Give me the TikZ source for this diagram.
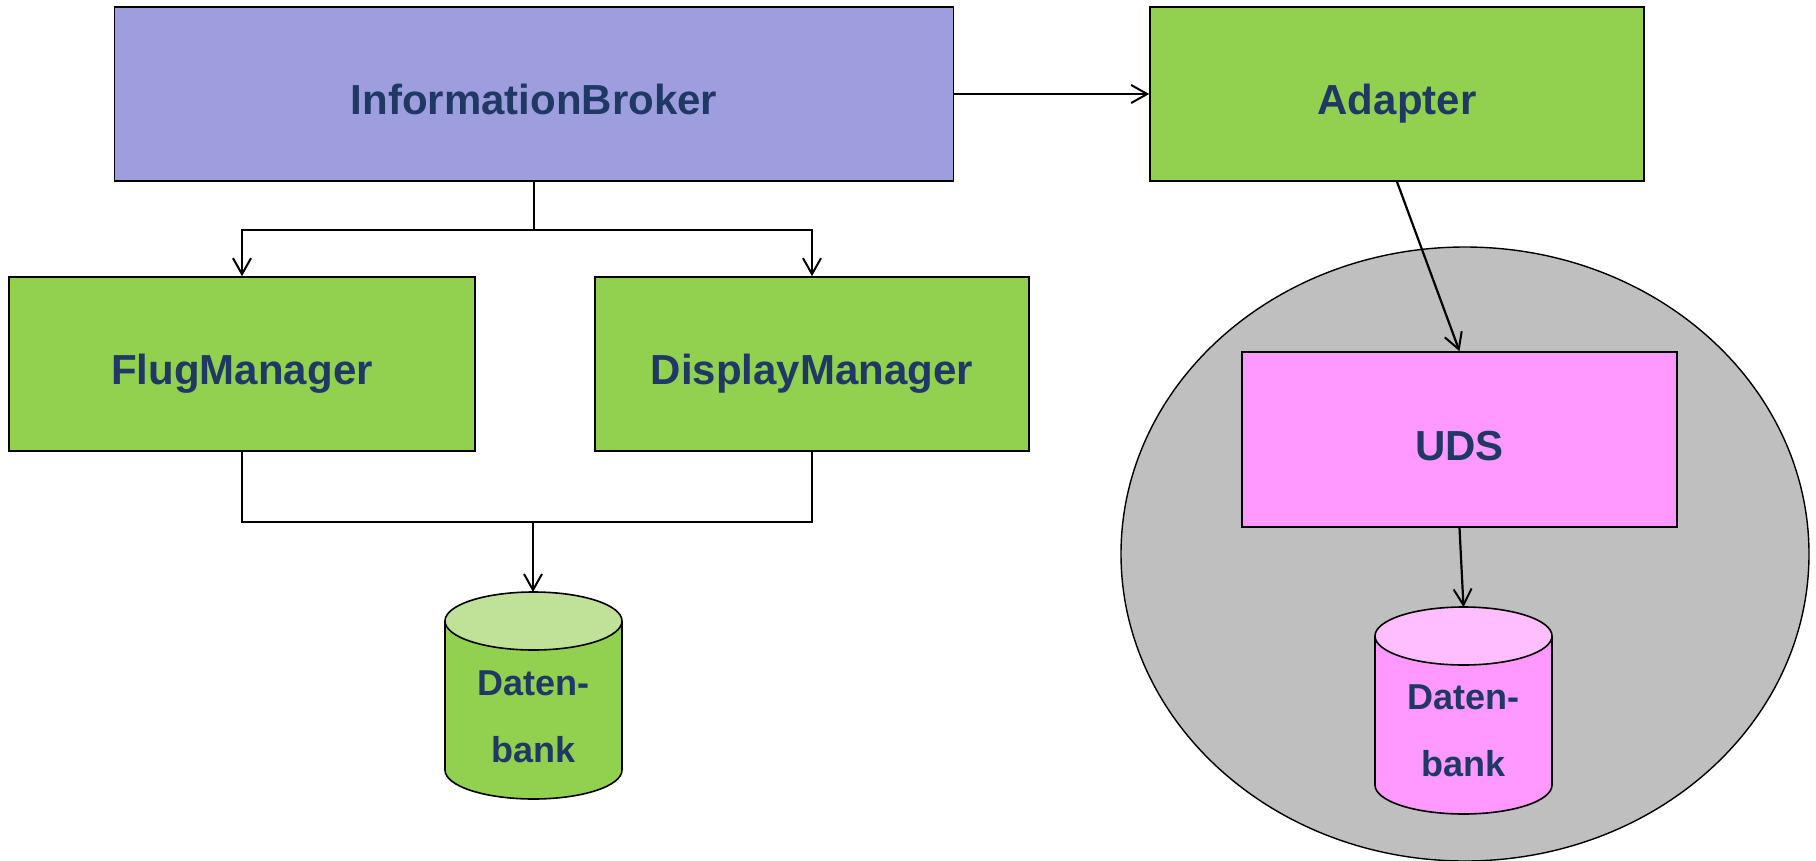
\documentclass[tikz,border=0pt]{standalone}
\usepackage{fontspec}
\setmainfont{Liberation Sans}
\usetikzlibrary{arrows.meta,shapes.geometric}
\definecolor{ibblue}{RGB}{158,158,222}
\definecolor{boxgreen}{RGB}{146,208,80}
\definecolor{topgreen}{RGB}{192,226,152}
\definecolor{boxpink}{RGB}{255,153,255}
\definecolor{toppink}{RGB}{255,190,255}
\definecolor{cloudgray}{RGB}{191,191,191}
\definecolor{txtblue}{RGB}{31,56,100}
\tikzset{
  box/.style={draw=black, line width=1.6pt, inner sep=0pt, font=\fontsize{42}{50}\selectfont\bfseries,
    text=txtblue, text height=41pt, text depth=0pt, align=center},
  dbtext/.style={inner sep=0pt, font=\fontsize{36}{67}\selectfont\bfseries, text=txtblue, align=center},
  arr/.style={line width=2.2pt, -{Straight Barb[length=16pt,width=18pt,line width=2pt]}},
  conn/.style={line width=2.2pt},
}
\begin{document}
\begin{tikzpicture}[x=1pt,y=-1pt]
\useasboundingbox (0,0) rectangle (1816,860);
% gray ellipse
\node[ellipse, draw=black, line width=1.4pt, fill=cloudgray, minimum width=688pt, minimum height=614pt, inner sep=0pt] (cloud) at (1465,554) {};
% boxes
\node[box, fill=ibblue, minimum width=839pt, minimum height=174pt] (IB) at (534,94) {InformationBroker};
\node[box, fill=boxgreen, minimum width=494pt, minimum height=174pt] (AD) at (1397,94) {Adapter};
\node[box, fill=boxgreen, minimum width=466pt, minimum height=174pt] (FM) at (242,364) {FlugManager};
\node[box, fill=boxgreen, minimum width=434pt, minimum height=174pt] (DM) at (812,364) {DisplayManager};
\node[box, fill=boxpink, minimum width=435pt, minimum height=175pt] (UDS) at (1459.5,439.5) {UDS};
% green cylinder
\fill[boxgreen] (445,621) -- (445,770) arc[start angle=180,end angle=0,x radius=88.5,y radius=29] -- (622,621) -- cycle;
\draw[line width=1.6pt] (445,621) -- (445,770) arc[start angle=180,end angle=0,x radius=88.5,y radius=29] -- (622,621);
\draw[line width=1.6pt, fill=topgreen] (533.5,621) ellipse[x radius=88.5,y radius=29];
\coordinate (dbAtop) at (533,592);
\node[dbtext] (dbA) at (533.5,717) {Daten-\\bank};
% pink cylinder
\fill[boxpink] (1375,636) -- (1375,785) arc[start angle=180,end angle=0,x radius=88.5,y radius=29] -- (1552,636) -- cycle;
\draw[line width=1.6pt] (1375,636) -- (1375,785) arc[start angle=180,end angle=0,x radius=88.5,y radius=29] -- (1552,636);
\draw[line width=1.6pt, fill=toppink] (1463.5,636) ellipse[x radius=88.5,y radius=29];
\coordinate (dbBtop) at (1463.5,607);
\node[dbtext] (dbB) at (1463.5,731) {Daten-\\bank};
% connectors
\draw[arr] (IB.east) -- (AD.west);
\draw[arr] (IB.south) -- ++(0,48) -| (FM.north);
\draw[arr] (IB.south) -- ++(0,48) -| (DM.north);
\draw[conn] (FM.south) -- ++(0,70) -| (DM.south);
\coordinate (jB) at (533,521);
\draw[arr] (jB) -- (dbAtop);
\draw[arr] (AD.south) -- (UDS.north);
\draw[arr] (UDS.south) -- (dbBtop);
\end{tikzpicture}
\end{document}
